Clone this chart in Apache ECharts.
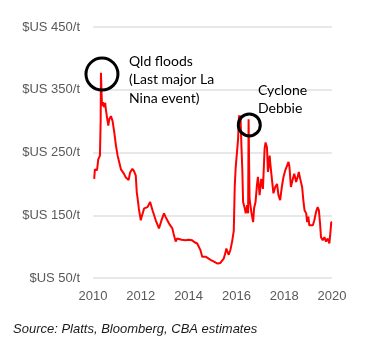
<!DOCTYPE html>
<html>
<head>
<meta charset="utf-8">
<script src="https://cdn.jsdelivr.net/npm/echarts@6/dist/echarts.min.js"></script>
<style>
  html, body { margin: 0; padding: 0; background: #fff; }
  #chart { width: 392px; height: 349px; }
</style>
</head>
<body>
<div id="chart"></div>
<script>
// Coking coal price, $US/t, by decimal year
const years = [
  2010.05, 2010.08, 2010.17, 2010.22, 2010.29, 2010.32, 2010.333, 2010.375, 2010.42, 2010.47,
  2010.51, 2010.54, 2010.61, 2010.64, 2010.68, 2010.75, 2010.82, 2010.89, 2010.96, 2011.03,
  2011.10, 2011.17, 2011.24, 2011.30, 2011.375, 2011.45, 2011.49, 2011.55, 2011.65, 2011.72,
  2011.79, 2011.83, 2011.86, 2011.92, 2012.00, 2012.04, 2012.14, 2012.21, 2012.28, 2012.39,
  2012.49, 2012.625, 2012.76, 2012.875, 2012.97, 2013.04, 2013.11, 2013.21, 2013.32, 2013.375,
  2013.46, 2013.52, 2013.60, 2013.71, 2013.79, 2013.875, 2014.00, 2014.15, 2014.25, 2014.36,
  2014.43, 2014.50, 2014.57, 2014.625, 2014.71, 2014.79, 2014.92, 2015.00, 2015.06, 2015.125,
  2015.21, 2015.33, 2015.40, 2015.47, 2015.54, 2015.58, 2015.625, 2015.68, 2015.75, 2015.82,
  2015.89, 2015.93, 2015.97, 2016.03, 2016.07, 2016.11, 2016.14, 2016.17, 2016.21, 2016.25,
  2016.28, 2016.35, 2016.39, 2016.45, 2016.49, 2016.51, 2016.55, 2016.625, 2016.70, 2016.74,
  2016.80, 2016.86, 2016.90, 2016.95, 2016.97, 2017.04, 2017.11, 2017.18, 2017.22, 2017.28,
  2017.32, 2017.35, 2017.39, 2017.42, 2017.49, 2017.55, 2017.625, 2017.70, 2017.76, 2017.83,
  2017.90, 2017.97, 2018.04, 2018.11, 2018.18, 2018.22, 2018.28, 2018.35, 2018.42, 2018.50,
  2018.57, 2018.61, 2018.67, 2018.75, 2018.80, 2018.85, 2018.92, 2018.96, 2019.01, 2019.05,
  2019.125, 2019.20, 2019.26, 2019.33, 2019.40, 2019.45, 2019.50, 2019.54, 2019.61, 2019.68,
  2019.75, 2019.82, 2019.89, 2019.93, 2019.97, 2020.00
];
const prices = [
  208, 223, 222, 239, 245, 300, 377, 324, 330, 322,
  329, 318, 300, 293, 303, 308, 300, 282, 261, 245,
  234, 223, 221, 216, 210, 208, 206, 218, 224, 220,
  213, 187, 179, 160, 142, 148, 161, 158, 163, 171,
  158, 142, 129, 143, 153, 147, 142, 135, 129, 120,
  108, 113, 113, 111, 112, 110, 111, 110, 107, 105,
  102, 94, 84, 87, 84, 82, 79, 80, 76, 74,
  73, 74, 76, 81, 90, 97, 92, 87, 95, 108,
  125, 195, 226, 229, 271, 309, 298, 309, 261, 219,
  171, 161, 153, 166, 153, 303, 176, 155, 139, 161,
  171, 198, 211, 192, 182, 208, 192, 256, 266, 258,
  219, 227, 245, 232, 206, 185, 195, 200, 182, 174,
  195, 211, 221, 218, 235, 227, 195, 206, 216, 203,
  212, 219, 208, 195, 174, 158, 153, 139, 148, 134,
  131, 134, 142, 155, 163, 158, 137, 115, 110, 115,
  108, 113, 105, 121, 139, 139
];
const yTicks = [50, 150, 250, 350, 450];
const xTicks = [2010, 2012, 2014, 2016, 2018, 2020];

// Annotated events: circle centre in data units, radius in px, caption lines
const events = [
  { name: 'Qld floods', at: [2010.375, 375], r: 16, lines: ['Qld floods', '(Last major La', 'Nina event)'], textAt: [129, 61] },
  { name: 'Cyclone Debbie', at: [2016.54, 294], r: 11, lines: ['Cyclone', 'Debbie'], textAt: [258, 90] }
];

const chart = echarts.init(document.getElementById('chart'), null, { renderer: 'canvas' });

const seriesData = years.map((y, i) => [y, prices[i]]);

chart.setOption({
  animation: false,
  grid: { left: 93, right: 60, top: 27, bottom: 71, containLabel: false },
  xAxis: {
    type: 'value',
    min: xTicks[0],
    max: xTicks[xTicks.length - 1],
    interval: 2,
    axisLine: { show: false },
    axisTick: { show: false },
    splitLine: { show: false },
    axisLabel: {
      color: '#595959', fontSize: 13, fontFamily: 'Liberation Sans', margin: 12,
      formatter: v => String(v)
    }
  },
  yAxis: {
    type: 'value',
    min: yTicks[0],
    max: yTicks[yTicks.length - 1],
    interval: 100,
    axisLine: { show: false },
    axisTick: { show: false },
    splitLine: { lineStyle: { color: '#e0e0e0', width: 1.5 } },
    axisLabel: {
      color: '#595959', fontSize: 13, fontFamily: 'Liberation Sans', margin: 13,
      formatter: v => '$US ' + v + '/t'
    }
  },
  series: [{
    type: 'line',
    data: seriesData,
    showSymbol: false,
    lineStyle: { color: '#ff0000', width: 2 },
    z: 3
  }]
});

// Event circles and captions, placed from the axis scales
const graphics = [];
events.forEach(ev => {
  const p = chart.convertToPixel({ gridIndex: 0 }, ev.at);
  graphics.push({
    type: 'circle', z: 10,
    shape: { cx: p[0], cy: p[1], r: ev.r },
    style: { fill: 'none', stroke: '#000', lineWidth: 3 }
  });
  ev.lines.forEach((t, i) => {
    graphics.push({
      type: 'text', z: 10,
      x: ev.textAt[0], y: ev.textAt[1] + i * 18.7,
      style: {
        text: t, fill: '#000', font: '14px Lato',
        textAlign: 'left', textVerticalAlign: 'middle'
      }
    });
  });
});
graphics.push({
  type: 'text', z: 10, x: 13, y: 329,
  style: {
    text: 'Source: Platts, Bloomberg, CBA estimates',
    fill: '#1a1a1a', font: 'italic 13px "Liberation Sans"',
    textAlign: 'left', textVerticalAlign: 'middle'
  }
});
chart.setOption({ graphic: graphics });
</script>
</body>
</html>
